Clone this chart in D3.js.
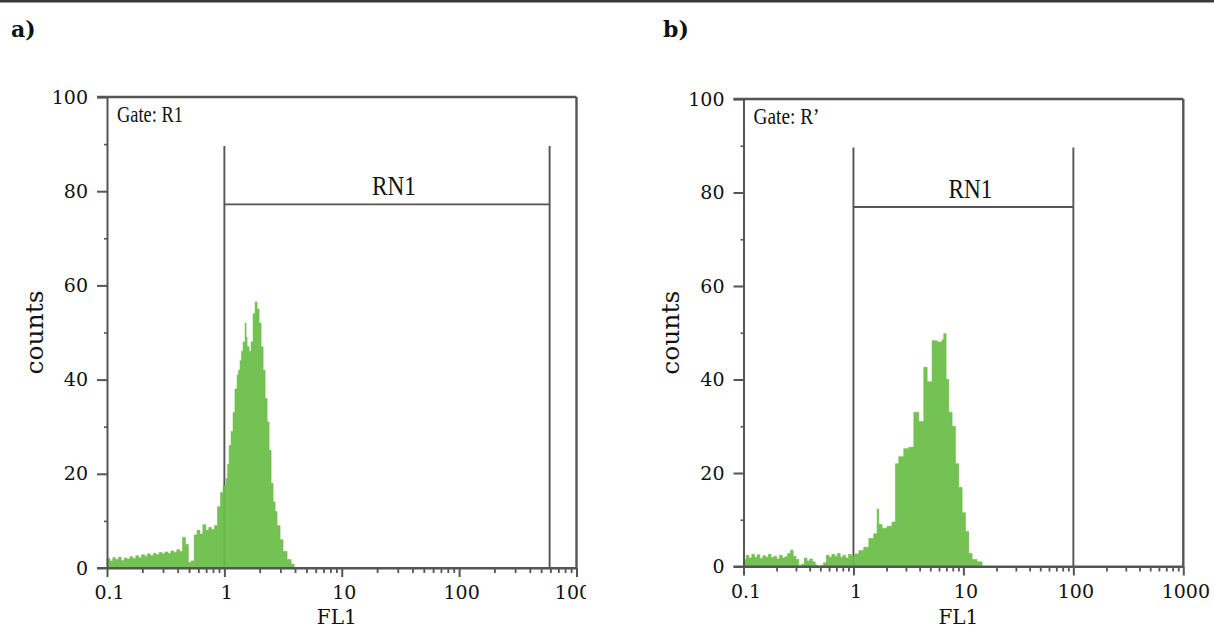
<!DOCTYPE html>
<html><head><meta charset="utf-8">
<script src="https://cdn.jsdelivr.net/npm/d3@7"></script>
<style>body{margin:0;background:#fff} svg{display:block}</style>
</head><body>
<svg id="chart" width="1214" height="631"></svg>
<script>
// ---- data ----
const panelLabels = ["a)", "b)"];
const gateLabels = ["Gate: R1", "Gate: R\u2019"];
const regionLabel = "RN1";
const xTitle = "FL1";
const yTitle = "counts";
const xTickValues = [0.1, 1, 10, 100, 1000];
const xTickLabels = ["0.1", "1", "10", "100", "1000"];
const yTickValues = [0, 20, 40, 60, 80, 100];
const yMinorTicks = [10, 30, 50, 70, 90];

const fl1A = [0.100,0.106,0.112,0.118,0.125,0.132,0.140,0.148,0.157,0.166,0.176,0.186,0.197,0.209,0.221,0.234,0.248,0.263,0.278,0.295,0.312,0.331,0.350,0.371,0.393,0.416,0.440,0.466,0.493,0.522,0.553,0.585,0.620,0.656,0.695,0.736,0.779,0.825,0.874,0.925,0.975,1.034,1.066,1.097,1.140,1.186,1.230,1.283,1.320,1.361,1.400,1.443,1.501,1.530,1.561,1.624,1.689,1.756,1.827,1.900,1.976,2.055,2.137,2.223,2.312,2.404,2.500,2.600,2.704,2.812,2.980,3.160,3.420,3.700,3.930];
const countsA = [2.0,1.5,2.2,1.8,2.3,1.6,2.1,1.9,2.4,2.0,2.6,2.2,2.8,2.5,3.0,2.6,3.1,2.8,3.3,3.0,3.4,3.1,3.6,3.3,3.9,3.5,6.5,5.0,1.2,1.5,7.0,8.0,7.2,9.2,8.0,8.6,8.2,9.0,13,16,17.5,19,22,26,29,33,38,41,42,44,46,48,52,49,47,46,48,54,56.5,55,52,47,42,36,31,25,18,14,12,9,6,3.5,1.8,0.8,0];

const fl1B = [0.100,0.106,0.112,0.119,0.126,0.133,0.141,0.150,0.159,0.168,0.178,0.189,0.200,0.212,0.225,0.238,0.252,0.267,0.283,0.300,0.318,0.337,0.357,0.378,0.400,0.424,0.449,0.476,0.504,0.534,0.566,0.600,0.636,0.674,0.714,0.757,0.802,0.850,0.900,0.955,1.03,1.12,1.24,1.38,1.53,1.64,1.70,1.82,2.02,2.24,2.41,2.58,2.87,3.18,3.54,3.93,4.36,4.68,5.19,5.77,6.40,6.63,6.96,7.36,7.89,8.46,9.07,9.73,10.43,11.19,12.0,13.3,14.8];
const countsB = [1.5,2.4,1.8,2.6,2.0,2.5,1.7,2.3,2.0,2.6,1.9,2.2,1.6,2.4,1.8,2.1,2.8,3.5,2.2,1.5,0.2,0.5,1.8,1.2,1.6,1.0,0.3,0.0,0.2,0.8,2.4,2.0,2.6,2.2,2.8,2.0,2.4,1.8,2.6,2.2,2.7,3.4,4.1,6.0,7.0,12.3,9.0,8.2,8.6,9.5,22,23.5,25.2,25.5,33,31,42.6,39.5,48.3,48,48.5,49.8,40,33,30,22,16.9,11.5,7.5,2.8,1.5,1.0,0];

const gateA = [1, 590];
const gateB = [1, 100];
const gateTop = 89.6;
const gateBarA = 77.2;
const gateBarB = 76.9;

// ---- layout ----
const svg = d3.select("#chart");
const serif = "'DejaVu Serif', serif";
const condensed = "'Liberation Serif', serif";
const frameColor = "#555";
const green = "#6bbd47";

svg.append("rect").attr("x",0).attr("y",0).attr("width",1214).attr("height",2.5).attr("fill","#3a3a3a");

const defs = svg.append("defs");
defs.append("clipPath").attr("id","clipA").append("rect").attr("x",0).attr("y",0).attr("width",586).attr("height",631);

const panels = [
  {label: panelLabels[0], labelX: 11, gateText: gateLabels[0], fl1: fl1A, counts: countsA, gate: gateA, bar: gateBarA,
   xr: [107, 576.5], yr: [568, 97], clip: "url(#clipA)"},
  {label: panelLabels[1], labelX: 663, gateText: gateLabels[1], fl1: fl1B, counts: countsB, gate: gateB, bar: gateBarB,
   xr: [743.5, 1183.3], yr: [566.5, 99], clip: null}
];

panels.forEach(p => {
  const g = svg.append("g");
  if (p.clip) g.attr("clip-path", p.clip);
  const x = d3.scaleLog().domain([0.1, 1000]).range(p.xr);
  const y = d3.scaleLinear().domain([0, 100]).range(p.yr);

  // panel label
  svg.append("text").attr("x", p.labelX).attr("y", 37).text(p.label)
    .attr("font-family", serif).attr("font-weight", "bold").attr("font-size", 22).attr("fill", "#111");

  // gate lines
  const gl = g.append("g").attr("stroke", frameColor).attr("stroke-width", 1.9).attr("fill", "none");
  p.gate.forEach(v => {
    gl.append("line").attr("x1", x(v)).attr("x2", x(v)).attr("y1", y(gateTop)).attr("y2", y(0));
  });
  gl.append("line").attr("x1", x(p.gate[0])).attr("x2", x(p.gate[1])).attr("y1", y(p.bar)).attr("y2", y(p.bar));

  // histogram
  const pts = p.fl1.map((v, i) => [v, p.counts[i]]);
  const area = d3.area().x(d => x(d[0])).y0(y(0)).y1(d => y(d[1])).curve(d3.curveStepAfter);
  g.append("path").datum(pts).attr("d", area).attr("fill", green).attr("fill-opacity", 0.93)
    .attr("stroke", green).attr("stroke-width", 0.6);

  // axes
  const yAxis = d3.axisLeft(y).tickValues(yTickValues).tickSize(10).tickSizeOuter(0).tickPadding(9);
  const ya = g.append("g").attr("transform", `translate(${p.xr[0]},0)`).call(yAxis);
  const yMinor = d3.axisLeft(y).tickValues(yMinorTicks).tickSize(3).tickSizeOuter(0).tickFormat("");
  const ym = g.append("g").attr("transform", `translate(${p.xr[0]},0)`).call(yMinor);
  ym.select(".domain").remove();

  const minor = [];
  [0.1, 1, 10, 100].forEach(d => { for (let k = 2; k <= 9; k++) minor.push(+(d * k).toPrecision(3)); });
  const xAxis = d3.axisBottom(x).tickValues(xTickValues).tickSize(9).tickSizeOuter(0).tickPadding(9)
    .tickFormat((d, i) => xTickLabels[i]);
  const xa = g.append("g").attr("transform", `translate(0,${p.yr[0]})`).call(xAxis);
  const xMinor = d3.axisBottom(x).tickValues(minor).tickSize(5).tickSizeOuter(0).tickFormat("");
  const xm = g.append("g").attr("transform", `translate(0,${p.yr[0]})`).call(xMinor);
  xm.select(".domain").remove();

  [ya, ym, xa, xm].forEach(a => {
    a.selectAll("path,line").attr("stroke", frameColor).attr("stroke-width", 2);
    a.selectAll("text").attr("font-family", serif).attr("font-size", 19).attr("fill", "#111");
  });
  ym.selectAll("line").attr("stroke-width", 1.6);
  xm.selectAll("line").attr("stroke-width", 1.8);
  xa.selectAll(".tick text").attr("dx", 2);
  // extend bottom axis left to the 0 tick
  g.append("line").attr("x1", p.xr[0] - 10).attr("x2", p.xr[1]).attr("y1", p.yr[0]).attr("y2", p.yr[0])
    .attr("stroke", frameColor).attr("stroke-width", 2.2);

  // top and right frame
  g.append("line").attr("x1", p.xr[0] - 10).attr("x2", p.xr[1]).attr("y1", p.yr[1]).attr("y2", p.yr[1])
    .attr("stroke", frameColor).attr("stroke-width", 2.4);
  g.append("line").attr("x1", p.xr[1]).attr("x2", p.xr[1]).attr("y1", p.yr[1]).attr("y2", p.yr[0])
    .attr("stroke", frameColor).attr("stroke-width", 2.4);

  // texts
  g.append("text").attr("x", p.xr[0] + 10).attr("y", p.yr[1] + 25).text(p.gateText)
    .attr("font-family", condensed).attr("font-size", 23).attr("fill", "#111")
    .attr("textLength", 66).attr("lengthAdjust", "spacingAndGlyphs");
  const gc = (x(p.gate[0]) + x(p.gate[1])) / 2 + 7;
  g.append("text").attr("x", gc).attr("y", y(p.bar) - 9).text(regionLabel)
    .attr("text-anchor", "middle").attr("font-family", condensed).attr("font-size", 27).attr("fill", "#111")
    .attr("textLength", 44).attr("lengthAdjust", "spacingAndGlyphs");

  const cx = (p.xr[0] + p.xr[1]) / 2 - 5;
  g.append("text").attr("x", cx).attr("y", 624).text(xTitle).attr("text-anchor", "middle")
    .attr("font-family", serif).attr("font-size", 20).attr("fill", "#111");
  const cy = (p.yr[0] + p.yr[1]) / 2;
  g.append("text").attr("transform", `translate(${p.xr[0] - 72},${cy}) rotate(-90)`).attr("dy", "0.3em")
    .text(yTitle).attr("text-anchor", "middle")
    .attr("font-family", serif).attr("font-size", 25).attr("fill", "#111");
});
</script>
</body></html>
